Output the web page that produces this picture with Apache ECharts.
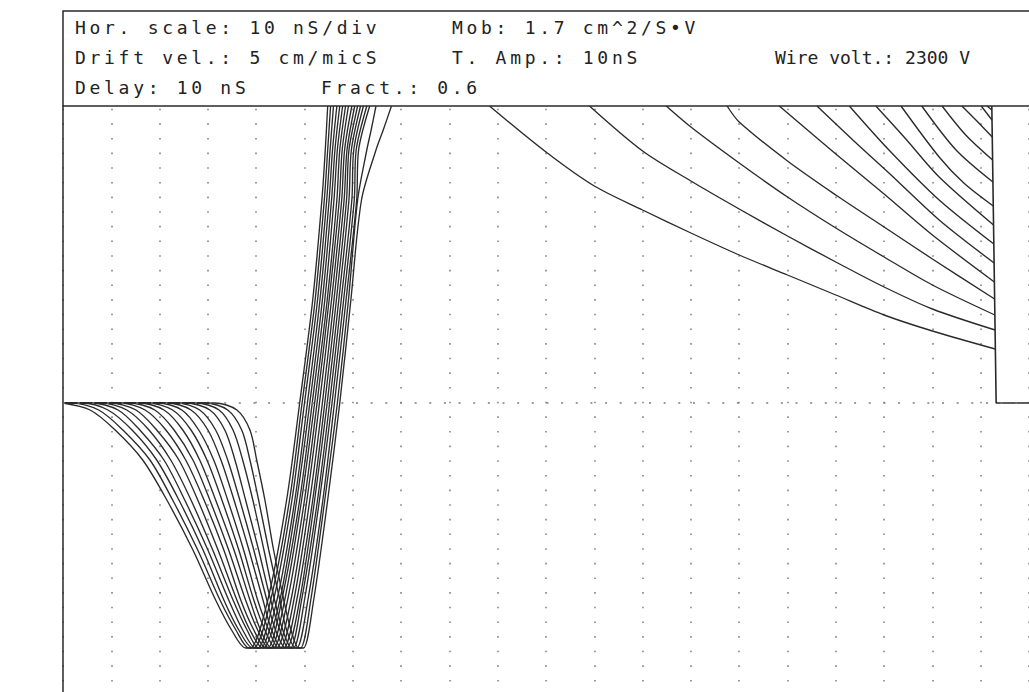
<!DOCTYPE html>
<html>
<head>
<meta charset="utf-8">
<script src="https://cdn.jsdelivr.net/npm/echarts@6.0.0/dist/echarts.min.js"></script>
<style>
  html, body { margin: 0; padding: 0; background: #fff; }
  #chart { width: 1029px; height: 692px; }
  /* plotter font is wide-spaced */
  #chart text { letter-spacing: 3.7px; }
  #chart text[style*="monospace"] { letter-spacing: 0px; }
</style>
</head>
<body>
<div id="chart"></div>
<script>
// time in nS (10 nS / div), amplitude in arbitrary units (0 = baseline)
const V_TOP = 297;      // upper edge of the plot window
const V_BOTTOM = -245;  // flat minimum of every pulse

// 17 pulses, index 0 = slowest (leaves baseline first), 16 = fastest
const tStart    = [0, 1.9, 3.9, 5.8, 7.9, 9.7, 11.8, 13.6, 15.7, 17.6, 19.6, 21.5, 23.6, 25.4, 27.5, 29.4, 31.4];
const fallAt7   = [5.6, 7.4, 9.3, 11.4, 13.2, 15.1, 17.0, 19.0, 20.9, 22.7, 24.6, 26.5, 28.3, 30.4, 32.3, 34.1, 36.0];
const fallAt27  = [10.8, 12.4, 14.3, 15.9, 17.8, 19.4, 21.3, 23.0, 24.8, 26.5, 28.1, 30.0, 31.6, 33.5, 35.2, 37.0, 38.7];
const fallAt57  = [16.5, 18.0, 19.4, 20.9, 22.3, 24.0, 25.4, 26.9, 28.3, 29.8, 31.2, 32.7, 34.1, 35.6, 37.2, 38.7, 40.1];
const fallAt97  = [21.5, 22.7, 24.0, 25.2, 26.5, 27.9, 29.2, 30.4, 31.6, 32.9, 34.1, 35.4, 36.6, 37.8, 39.3, 40.5, 41.8];
const fallAt147 = [26.9, 27.9, 29.0, 30.0, 31.0, 32.1, 33.3, 34.3, 35.4, 36.4, 37.4, 38.5, 39.5, 40.5, 41.6, 42.6, 43.6];
const fallAt197 = [31.6, 32.5, 33.3, 34.3, 35.2, 36.0, 36.8, 37.8, 38.7, 39.5, 40.3, 41.4, 42.2, 43.0, 43.8, 44.9, 45.7];
const fallAt227 = [34.9, 35.8, 36.4, 37.2, 38.1, 38.7, 39.5, 40.3, 40.9, 41.8, 42.6, 43.2, 44.0, 44.9, 45.5, 46.3, 47.2];
const bottomIn  = [37.8, 38.5, 39.3, 39.9, 40.5, 41.4, 42.0, 42.6, 43.2, 44.0, 44.7, 45.3, 46.1, 46.7, 47.4, 48.2, 48.8];
const bottomOut = [38.8, 39.5, 40.3, 40.9, 41.5, 42.4, 43.0, 43.6, 44.2, 45.0, 45.7, 46.3, 47.1, 47.7, 48.4, 49.2, 49.8];
const riseAt197 = [42.4, 43.0, 43.6, 44.3, 44.9, 45.3, 45.9, 46.5, 47.2, 47.8, 48.4, 49.0, 49.4, 50.0, 50.7, 51.3, 51.9];
const riseAt97  = [46.3, 46.9, 47.4, 48.0, 48.4, 49.0, 49.4, 50.0, 50.5, 51.1, 51.7, 52.1, 52.7, 53.1, 53.8, 54.2, 54.8];
const riseAt0   = [49.0, 49.5, 50.0, 50.6, 51.1, 51.6, 52.1, 52.6, 53.1, 53.7, 54.2, 54.7, 55.2, 55.7, 56.2, 56.8, 57.3];
const riseAt103 = [51.7, 52.2, 52.7, 53.2, 53.7, 54.2, 54.7, 55.1, 55.6, 56.1, 56.6, 57.1, 57.6, 58.1, 58.6, 59.1, 59.6];
const riseAt203 = [53.6, 54.1, 54.6, 55.1, 55.6, 56.1, 56.7, 57.2, 57.7, 58.2, 58.7, 59.2, 59.8, 60.3, 60.8, 61.0, 61.8];
const riseAt253 = [54.3, 54.8, 55.3, 55.8, 56.3, 56.8, 57.3, 57.8, 58.3, 58.8, 59.2, 59.7, 60.2, 60.7, 61.2, 62.9, 64.8];
const riseAt273 = [null, null, null, null, null, null, null, null, null, null, null, null, null, null, null, 63.8, 66.3];
const topIn     = [54.8, 55.4, 56.0, 56.7, 57.3, 57.9, 58.5, 59.1, 59.8, 60.4, 61.0, 61.6, 62.2, 62.9, 63.5, 64.8, 68.0];

// positive lobes coming back into the window (pulses 3..16), last point on the end-of-trace line
const tail03 = [[191.3, 297], [192.31, 293]];
const tail04 = [[190.1, 297], [192.34, 283]];
const tail05 = [[186.1, 297], [189.0, 283], [192.39, 266]];
const tail06 = [[182.0, 297], [186.9, 268], [192.46, 243]];
const tail07 = [[177.8, 297], [184.9, 253], [192.53, 221]];
const tail08 = [[173.5, 297], [181.4, 246], [186.5, 220], [192.6, 197]];
const tail09 = [[168.3, 297], [174.5, 264], [181.4, 226], [192.66, 178]];
const tail10 = [[162.8, 297], [171.0, 253], [181.4, 203], [192.72, 159]];
const tail11 = [[156.1, 297], [164.2, 260], [171.0, 230], [181.4, 183], [192.78, 140]];
const tail12 = [[148.3, 297], [160, 249], [170, 209], [180, 168], [192.83, 121]];
const tail13 = [[137.5, 297], [140, 281], [150, 242], [160, 208], [170, 176], [180, 144], [192.88, 104]];
const tail14 = [[124.9, 297], [130, 276], [140, 240], [150, 206], [160, 175], [170, 146], [180, 118], [192.93, 88]];
const tail15 = [[109.0, 297], [120, 252], [130, 222], [140, 194], [150, 167], [160, 141], [170, 116], [180, 94], [192.98, 73]];
const tail16 = [[88.3, 297], [100, 251], [110, 217], [120, 193], [130, 170], [140, 148], [150, 128], [160, 108], [170, 88], [180, 72], [193.0, 54]];

const tails = [null, null, null, tail03, tail04, tail05, tail06, tail07, tail08, tail09, tail10, tail11, tail12, tail13, tail14, tail15, tail16];

// end of the recorded trace: every pulse drops back to the baseline
const traceEnd = [[192.3, 297], [193.2, 0], [200, 0]];

const headerLines = [
  { text: "Hor. scale: 10 nS/div", x: 75, y: 27 },
  { text: "Mob: 1.7 cm^2/S\u2022V", x: 452, y: 27 },
  { text: "Drift vel.: 5 cm/micS", x: 75, y: 57 },
  { text: "T. Amp.: 10nS", x: 452, y: 57 },
  { text: "Wire volt.: 2300 V", x: 775, y: 57, tight: true },
  { text: "Delay: 10 nS", x: 75, y: 87 },
  { text: "Fract.: 0.6", x: 321, y: 87 }
];

function buildPulse(k) {
  let pts = [[0, 0]];
  if (tStart[k] > 0) pts.push([tStart[k], 0]);
  pts.push([fallAt7[k], -7], [fallAt27[k], -27], [fallAt57[k], -57], [fallAt97[k], -97],
           [fallAt147[k], -147], [fallAt197[k], -197], [fallAt227[k], -227]);
  pts.push([bottomIn[k], V_BOTTOM], [bottomOut[k], V_BOTTOM]);
  pts.push([riseAt197[k], -197], [riseAt97[k], -97], [riseAt0[k], 0],
           [riseAt103[k], 103], [riseAt203[k], 203], [riseAt253[k], 253]);
  if (riseAt273[k] != null) pts.push([riseAt273[k], 273]);
  pts.push([topIn[k], V_TOP]);
  if (tails[k]) {
    // off-scale part of the positive lobe is not drawn
    pts.push([null, null]);
    pts = pts.concat(tails[k]);
  }
  return pts;
}

let chart = echarts.init(document.getElementById("chart"), null, { renderer: "svg" });

let series = tStart.map((t, k) => {
  return {
    name: "pulse" + k,
    type: "line",
    data: buildPulse(k),
    smooth: 0.3,
    connectNulls: false,
    showSymbol: false,
    clip: true,
    silent: true,
    lineStyle: { color: "#2a2a2a", width: 1.35 },
    z: 3
  };
});

series.push({
  name: "end",
  type: "line",
  data: traceEnd,
  showSymbol: false,
  clip: true,
  silent: true,
  lineStyle: { color: "#2a2a2a", width: 1.6 },
  z: 3,
  // dotted zero line
  markLine: {
    silent: true,
    symbol: "none",
    label: { show: false },
    lineStyle: { color: "#7d7d7d", type: [2, 12.65], width: 1.5 },
    data: [{ yAxis: 0 }]
  }
});

chart.setOption({
  backgroundColor: "#ffffff",
  animation: false,
  grid: { left: 63, right: 0, top: 106, bottom: 0 },
  xAxis: {
    type: "value",
    min: 0,
    max: 200,
    interval: 10,
    axisLine: { show: false },
    axisTick: { show: false },
    axisLabel: { show: false },
    splitLine: {
      show: true,
      lineStyle: { color: "#7d7d7d", type: [1.6, 13.05], dashOffset: 11.6, width: 1.5 }
    }
  },
  yAxis: {
    type: "value",
    min: -289,
    max: 297,
    axisLine: { show: true, onZero: false, lineStyle: { color: "#2a2a2a", width: 1.5 } },
    axisTick: { show: false },
    axisLabel: { show: false },
    splitLine: { show: false }
  },
  graphic: [
    {
      type: "rect",
      shape: { x: 63, y: 11, width: 1010, height: 95 },
      style: { fill: "none", stroke: "#2a2a2a", lineWidth: 1.5 },
      z: 10
    }
  ].concat(headerLines.map(h => ({
    type: "text",
    x: h.x,
    y: h.y,
    z: 11,
    style: {
      text: h.text,
      fill: "#222",
      font: h.tight ? '18px "DejaVu Sans Mono", monospace' : '18px "DejaVu Sans Mono"',
      verticalAlign: "middle"
    }
  }))),
  series: series
});
</script>
</body>
</html>
